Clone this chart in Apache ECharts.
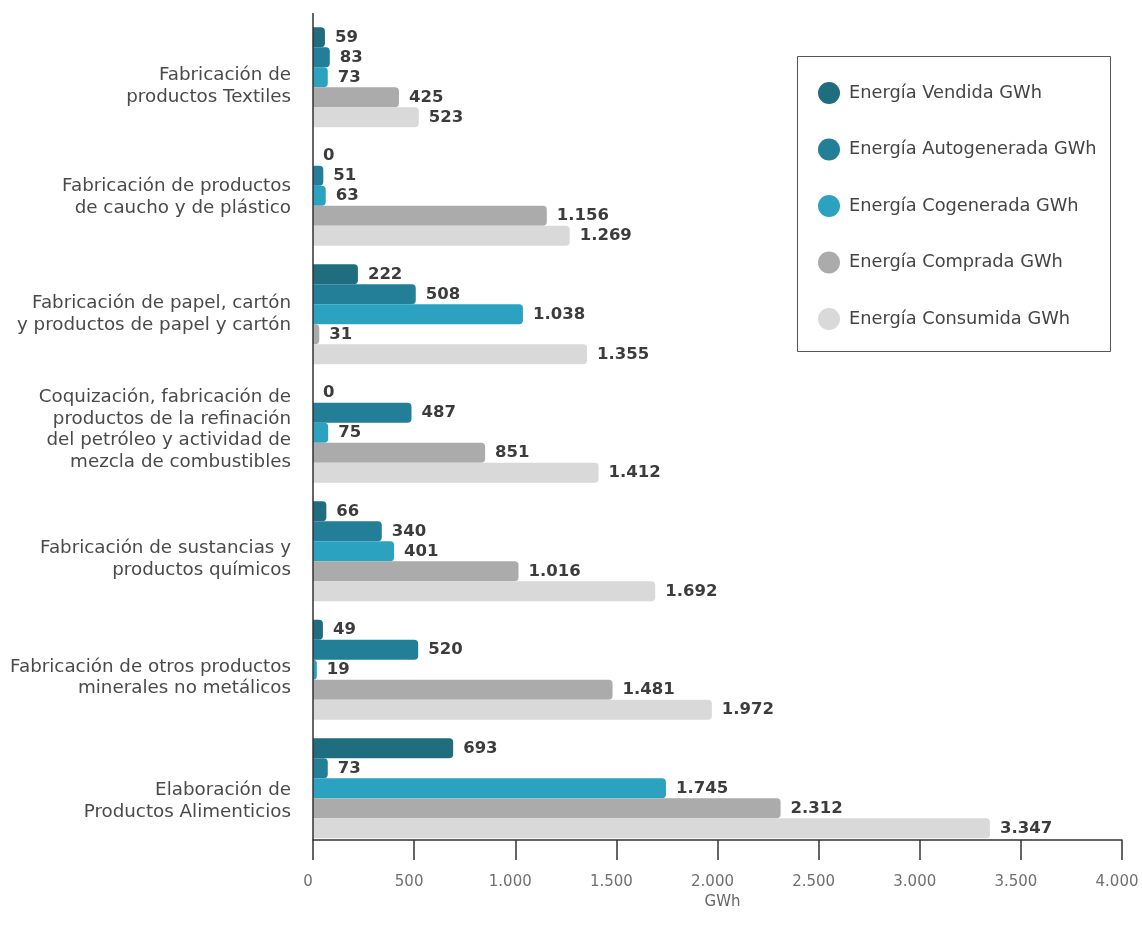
<!DOCTYPE html>
<html>
<head>
<meta charset="utf-8">
<script src="https://cdn.jsdelivr.net/npm/echarts@6/dist/echarts.min.js"></script>
<style>
html,body{margin:0;padding:0;background:#fff;}
#chart{width:1142px;height:934px;}
</style>
</head>
<body>
<div id="chart"></div>
<script>
const categories = [
  "Fabricación de\nproductos Textiles",
  "Fabricación de productos\nde caucho y de plástico",
  "Fabricación de papel, cartón\ny productos de papel y cartón",
  "Coquización, fabricación de\nproductos de la refinación\ndel petróleo y actividad de\nmezcla de combustibles",
  "Fabricación de sustancias y\nproductos químicos",
  "Fabricación de otros productos\nminerales no metálicos",
  "Elaboración de\nProductos Alimenticios"
];
const seriesNames = [
  "Energía Vendida GWh",
  "Energía Autogenerada GWh",
  "Energía Cogenerada GWh",
  "Energía Comprada GWh",
  "Energía Consumida GWh"
];
const vendida      = [59, 0, 222, 0, 66, 49, 693];
const autogenerada = [83, 51, 508, 487, 340, 520, 73];
const cogenerada   = [73, 63, 1038, 75, 401, 19, 1745];
const comprada     = [425, 1156, 31, 851, 1016, 1481, 2312];
const consumida    = [523, 1269, 1355, 1412, 1692, 1972, 3347];
const xTicks = { min: 0, max: 4000, interval: 500 };

// styling
const colors = ["#1f6d7e", "#237e98", "#2ba2bf", "#ababab", "#d9d9d9"];
const labelShift = [9, 1.5, 0, -3, 8, 8, 13];
const FONT = "DejaVu Sans";
const CAT_FS = 18.3, CAT_LH = 21.7;

function fmt(v) {
  return String(Math.round(v)).replace(/\B(?=(\d{3})+(?!\d))/g, ".");
}

const dataSets = [vendida, autogenerada, cogenerada, comprada, consumida];
const series = dataSets.map((d, i) => ({
  name: seriesNames[i],
  type: "bar",
  data: d,
  barGap: "0%",
  barCategoryGap: "15.6%",
  itemStyle: { color: colors[i], borderRadius: [0, 4, 4, 0] },
  label: {
    show: true,
    position: "right",
    distance: 10,
    fontFamily: FONT,
    fontSize: 16.5,
    fontWeight: "bold",
    color: "#3c3c3c",
    formatter: p => fmt(p.value)
  }
}));

const rich = {
  n: { fontFamily: FONT, fontSize: CAT_FS, lineHeight: CAT_LH, color: "#4a4a4a", align: "right" }
};
labelShift.forEach((s, i) => {
  rich["g" + i] = { fontSize: 1, lineHeight: Math.max(1, 2 * Math.abs(s)), align: "right" };
});
function catFormatter(value, index) {
  const lines = value.split("\n").map(l => "{n|" + l + "}");
  const s = labelShift[index] || 0;
  if (s > 0) lines.unshift("{g" + index + "| }");
  else if (s < 0) lines.push("{g" + index + "| }");
  return lines.join("\n");
}

const gridTop = 18, gridHeight = 829.5, axisY = 840;

const chart = echarts.init(document.getElementById("chart"), null, { renderer: "canvas" });
chart.setOption({
  animation: false,
  backgroundColor: "#ffffff",
  textStyle: { fontFamily: FONT },
  grid: { left: 313, right: 20, top: gridTop, height: gridHeight, containLabel: false, outerBoundsMode: "none" },
  legend: {
    orient: "vertical",
    left: 818,
    top: 82,
    itemWidth: 22,
    itemHeight: 22,
    itemGap: 34.5,
    icon: "circle",
    padding: 0,
    textStyle: { fontFamily: FONT, fontSize: 17.8, color: "#444", padding: [0, 0, 0, 4] },
    data: seriesNames
  },
  graphic: [
    {
      type: "rect",
      shape: { x: 797.5, y: 56.5, width: 313, height: 295 },
      style: { fill: "none", stroke: "#555", lineWidth: 1 },
      silent: true
    },
    {
      type: "line",
      shape: { x1: 313, y1: 13, x2: 313, y2: axisY },
      style: { stroke: "#333", lineWidth: 1.5 },
      silent: true,
      z: 10
    }
  ],
  xAxis: {
    type: "value",
    min: xTicks.min,
    max: xTicks.max,
    interval: xTicks.interval,
    offset: axisY - (gridTop + gridHeight),
    name: "GWh",
    nameLocation: "middle",
    nameGap: 50,
    nameTextStyle: { fontFamily: FONT, fontSize: 15, color: "#666", padding: [0, 0, 0, 10] },
    axisLine: { show: true, lineStyle: { color: "#333", width: 1.5 } },
    axisTick: { show: true, inside: false, length: 20, lineStyle: { color: "#333", width: 1.5 } },
    axisLabel: { margin: 35, fontFamily: FONT, fontSize: 15, color: "#707070", padding: [0, 10, 0, 0], formatter: v => fmt(v) },
    splitLine: { show: false }
  },
  yAxis: {
    type: "category",
    inverse: true,
    data: categories,
    axisLine: { show: false },
    axisTick: { show: false },
    axisLabel: { margin: 22, align: "right", formatter: catFormatter, rich: rich }
  },
  series: series
});
</script>
</body>
</html>
